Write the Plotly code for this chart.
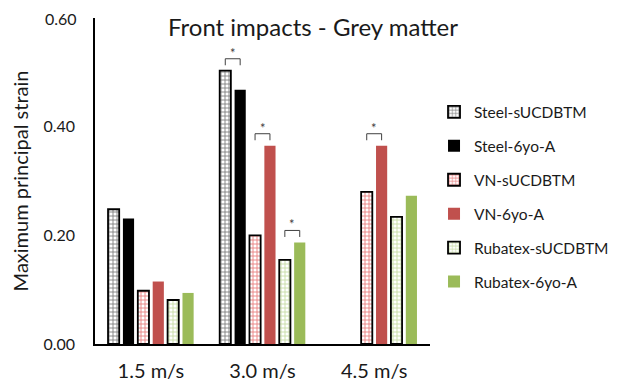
import plotly.graph_objects as go

categories = ["1.5 m/s", "3.0 m/s", "4.5 m/s"]
series_names = ["Steel-sUCDBTM", "Steel-6yo-A", "VN-sUCDBTM", "VN-6yo-A",
                "Rubatex-sUCDBTM", "Rubatex-6yo-A"]
steel_s = [0.248, 0.503, None]
steel_6yo = [0.231, 0.468, None]
vn_s = [0.098, 0.200, 0.280]
vn_6yo = [0.115, 0.365, 0.365]
rub_s = [0.081, 0.155, 0.234]
rub_6yo = [0.094, 0.187, 0.273]
values = [steel_s, steel_6yo, vn_s, vn_6yo, rub_s, rub_6yo]
y_ticks = [0.0, 0.2, 0.4, 0.6]
y_tick_labels = ["0.00", "0.20", "0.40", "0.60"]

# significance pairs: category index, series a index, series b index
sig_category = [1, 1, 1, 2]
sig_a = [0, 2, 4, 2]
sig_b = [1, 3, 5, 3]

FONT = "Lato"
TXT = "#1a1a1a"
bargap = 0.2
bargroupgap = 0.25

def hatch(fg):
    return dict(shape="+", fgcolor=fg, bgcolor="white", size=4, solidity=0.4)

styles = [
    dict(color="white", pattern=hatch("black"), line=dict(color="black", width=1.8)),
    dict(color="black", line=dict(width=0)),
    dict(color="white", pattern=hatch("#d00000"), line=dict(color="black", width=1.8)),
    dict(color="#C0504D", line=dict(width=0)),
    dict(color="white", pattern=hatch("#8DB84A"), line=dict(color="black", width=1.8)),
    dict(color="#9BBB59", line=dict(width=0)),
]

fig = go.Figure()
for i, (name, vals) in enumerate(zip(series_names, values)):
    fig.add_trace(go.Bar(name=name, x=categories, y=vals, marker=styles[i],
                         legendgroup=name))

n = len(series_names)
slot = (1 - bargap) / n

def center(cat, s):
    return cat - (1 - bargap) / 2 + slot * (s + 0.5)

for c, a, b in zip(sig_category, sig_a, sig_b):
    top = max(values[a][c], values[b][c])
    h = top + 0.022
    xa, xb = center(c, a), center(c, b)
    line = dict(color="#404040", width=1)
    fig.add_shape(type="line", x0=xa, x1=xb, y0=h, y1=h, xref="x", yref="y", line=line)
    fig.add_shape(type="line", x0=xa, x1=xa, y0=h, y1=h - 0.012, xref="x", yref="y", line=line)
    fig.add_shape(type="line", x0=xb, x1=xb, y0=h, y1=h - 0.012, xref="x", yref="y", line=line)
    fig.add_annotation(x=(xa + xb) / 2, y=h, text="*", showarrow=False, yanchor="bottom",
                       yshift=-4, font=dict(family=FONT, size=13, color="#404040"))

# top tick label drawn as an annotation (plotly hides it this close to the figure edge)
fig.add_annotation(x=0, xref="paper", y=y_ticks[-1], yref="y", text=y_tick_labels[-1],
                   showarrow=False, xanchor="right", yanchor="middle", xshift=-16,
                   font=dict(family=FONT, size=16, color=TXT))

# the page adds an 8 px body margin, so the figure is 8 px smaller and shifted
W, H = 609, 376
fig.update_layout(
    width=W, height=H,
    margin=dict(l=87, r=187, t=10, b=40, autoexpand=False),
    paper_bgcolor="white", plot_bgcolor="white",
    barmode="group", bargap=bargap, bargroupgap=bargroupgap,
    font=dict(family=FONT, color=TXT),
    title=dict(text="Front impacts - Grey matter", x=305 / W, xanchor="center",
               y=1 - 20 / H, yanchor="middle", automargin=False,
               font=dict(family=FONT, size=24, color=TXT)),
    legend=dict(x=1.012, xanchor="left", y=0.763, yanchor="top", tracegroupgap=10.8,
                itemwidth=30, font=dict(family=FONT, size=15.5, color=TXT),
                bgcolor="rgba(0,0,0,0)"),
    showlegend=True,
)
fig.update_xaxes(showline=True, linecolor="black", linewidth=1.5, showgrid=False, automargin=False,
                 ticks="", ticklabelstandoff=8, tickfont=dict(family=FONT, size=20, color=TXT))
fig.update_yaxes(range=[0, 0.6], tickvals=y_ticks[:-1], ticktext=y_tick_labels[:-1], showline=True,
                 linecolor="black", linewidth=1.5, showgrid=False, zeroline=False, ticks="",
                 ticklabelstandoff=15, automargin=False,
                 tickfont=dict(family=FONT, size=16, color=TXT),
                 title=dict(text="Maximum principal strain", standoff=10,
                            font=dict(family=FONT, size=20, color=TXT)))

fig.write_html("out.html")
